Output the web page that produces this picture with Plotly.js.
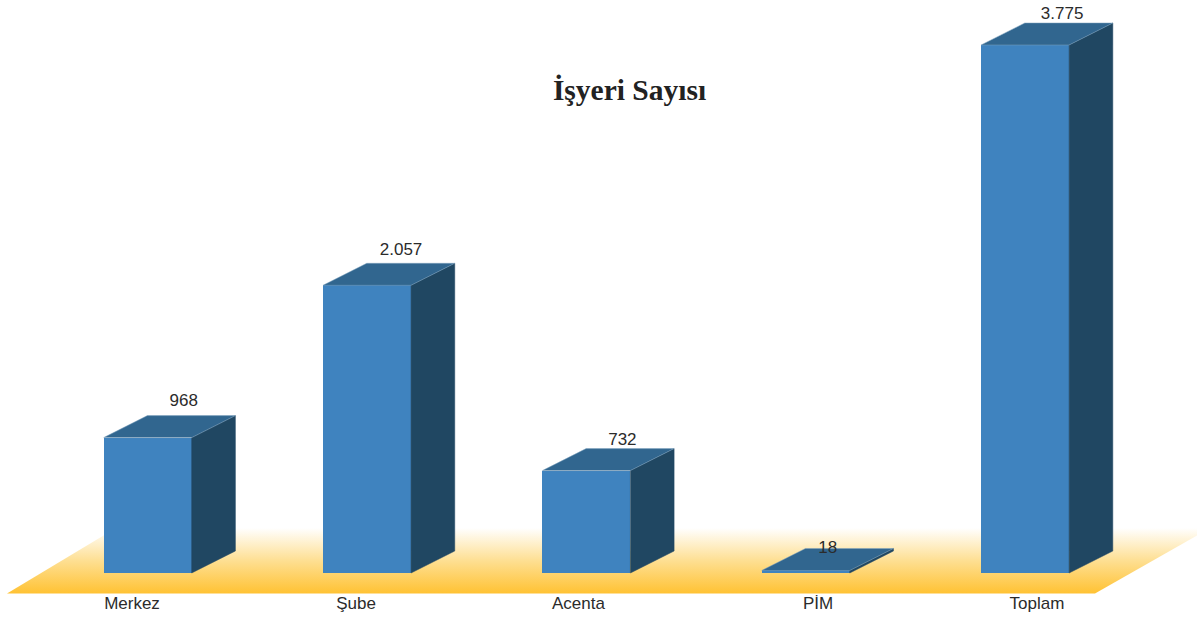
<!DOCTYPE html>
<html><head><meta charset="utf-8">
<script src="https://cdn.plot.ly/plotly-3.0.1.min.js"></script>
<style>html,body{margin:0;padding:0;background:#fff}#c{width:1197px;height:619px}</style>
</head><body><div id="c"></div>
<script>
const categories = ["Merkez","Şube","Acenta","PİM","Toplam"];
const values = [968,2057,732,18,3775];
const valueLabels = ["968","2.057","732","18","3.775"];

// geometry of the fake 3D: one category step in px, one value unit in px
const W=1197,H=619, stepPx=219.35, unitPx=0.13987, x0Px=147.7, y0Px=573;
const barW=88/stepPx, depthX=43.7/stepPx, depthY=22/unitPx;
const xr=[-x0Px/stepPx,(W-x0Px)/stepPx], yr=[-(H-y0Px)/unitPx,y0Px/unitPx];
const px=p=>(p-x0Px)/stepPx, py=p=>(y0Px-p)/unitPx;
const idx=categories.map((_,i)=>i);

const front="#3F83BF", top_="#31668F", side="#204762", edge="#7FA3BF";
const txt="#2b2b2b";
const traces=[];
// floor
traces.push({type:"scatter",mode:"none",x:[px(7),px(1095),px(1210),px(116),px(7)],
  y:[py(593.5),py(593.5),py(528),py(528),py(593.5)],fill:"toself",
  fillgradient:{type:"vertical",colorscale:[[0,"#FFC233"],[0.5,"#FEDF92"],[1,"#FFFFFF"]]},
  hoverinfo:"skip",showlegend:false,xaxis:"x",yaxis:"y"});
// front faces
traces.push({type:"bar",x:idx,y:values,width:barW,marker:{color:front,line:{width:0}},
  hoverinfo:"skip",showlegend:false,xaxis:"x2",yaxis:"y2"});
values.forEach((v,i)=>{
  const l=i-barW/2,r=i+barW/2;
  traces.push({type:"scatter",mode:"lines",x:[r,r+depthX,r+depthX,r,r],y:[0,depthY,v+depthY,v,0],
    fill:"toself",fillcolor:side,line:{color:side,width:0.5},hoverinfo:"skip",showlegend:false,xaxis:"x2",yaxis:"y2"});
  traces.push({type:"scatter",mode:"lines",x:[l,l+depthX,r+depthX,r,l],y:[v,v+depthY,v+depthY,v,v],
    fill:"toself",fillcolor:top_,line:{color:edge,width:0.5},hoverinfo:"skip",showlegend:false,xaxis:"x2",yaxis:"y2"});
});
// value labels
const labelDx=[36,34,36,22,37], labelDy=[14,12.5,8,0,8.5];
traces.push({type:"scatter",mode:"text",x:idx.map(i=>i+labelDx[i]/stepPx),
  y:values.map((v,i)=>v+depthY+labelDy[i]/unitPx),text:valueLabels,textposition:"middle center",
  textfont:{family:"Liberation Sans, Arial, sans-serif",size:17,color:txt},
  hoverinfo:"skip",showlegend:false,xaxis:"x2",yaxis:"y2",cliponaxis:false});

const tickPx=[132,356,578.5,818,1037];
const layout={
  width:W,height:H,margin:{l:0,r:0,t:0,b:0},paper_bgcolor:"#fff",plot_bgcolor:"rgba(0,0,0,0)",
  showlegend:false,
  title:{text:"<b>İşyeri Sayısı</b>",x:629.5/W,xanchor:"center",y:1-90/H,yanchor:"middle",
    font:{family:"Liberation Serif, Times New Roman, serif",size:29.5,color:"#222"}},
  xaxis:{range:xr,showgrid:false,zeroline:false,showline:false,anchor:"free",position:(H-590.5)/H,
    tickmode:"array",tickvals:tickPx.map(px),ticktext:categories,ticks:"",ticklen:0,
    tickfont:{family:"Liberation Sans, Arial, sans-serif",size:17,color:txt}},
  yaxis:{range:yr,visible:false,fixedrange:true},
  xaxis2:{range:xr,overlaying:"x",visible:false,anchor:"y2"},
  yaxis2:{range:yr,overlaying:"y",visible:false,anchor:"x2"},
  bargap:0
};
Plotly.newPlot("c",traces,layout,{displayModeBar:false,staticPlot:true});
</script></body></html>
